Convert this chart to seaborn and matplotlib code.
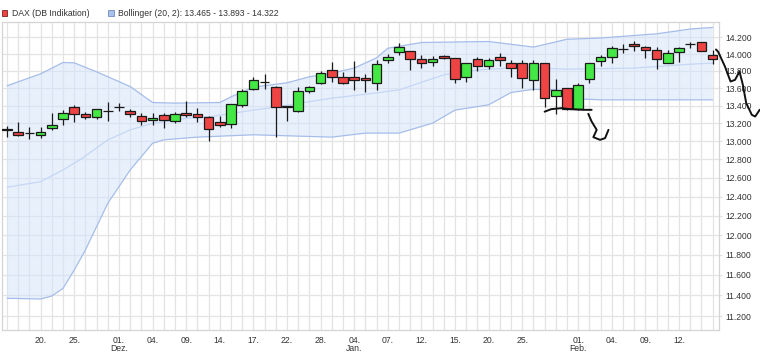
import numpy as np
import pandas as pd
import matplotlib
matplotlib.use("Agg")
from matplotlib import pyplot as plt
from matplotlib.patches import Patch
from matplotlib.ticker import FixedLocator, NullLocator
import seaborn as sns

# DAX daily candles, 17.11. - 17.02. (one entry per trading day)
open_ = [13140, 13103, 13090, 13066, 13144, 13252, 13388, 13303, 13266, 13336,
         13383, 13334, 13286, 13241, 13294, 13224, 13317, 13303, 13275, 13209,
         13190, 13402, 13588, 13671, 13617, 13386, 13342, 13572, 13665, 13806,
         13735, 13728, 13713, 13658, 13926, 14025, 14031, 13940, 13908, 13976,
         13953, 13728, 13940, 13853, 13971, 13897, 13893, 13696, 13897, 13505,
         13600, 13356, 13705, 13912, 13964, 14061, 14120, 14087, 14045, 13897,
         14027, 14116, 14139, 13995]
high = [13170, 13209, 13156, 13156, 13311, 13345, 13406, 13328, 13362, 13442,
        13434, 13359, 13317, 13313, 13313, 13331, 13453, 13370, 13280, 13283,
        13420, 13588, 13726, 13770, 13620, 13396, 13612, 13627, 13802, 13902,
        13790, 13912, 13761, 13932, 14000, 14132, 14035, 13995, 13980, 13995,
        13956, 13900, 13971, 13956, 14012, 13924, 13932, 13932, 13900, 13708,
        13605, 13665, 13900, 13992, 14091, 14123, 14156, 14099, 14079, 14051,
        14079, 14144, 14148, 14051]
low = [13048, 13053, 13022, 13029, 13125, 13178, 13218, 13245, 13252, 13230,
       13339, 13275, 13176, 13181, 13151, 13200, 13271, 13218, 13000, 13156,
       13144, 13388, 13580, 13588, 13048, 13230, 13331, 13549, 13650, 13677,
       13650, 13580, 13557, 13580, 13893, 13992, 13810, 13834, 13861, 13940,
       13665, 13677, 13794, 13822, 13861, 13735, 13603, 13580, 13381, 13305,
       13351, 13351, 13665, 13853, 13893, 14012, 14031, 13952, 13822, 13893,
       13905, 14072, 14031, 13879]
close = [13122, 13070, 13086, 13103, 13178, 13317, 13303, 13274, 13359, 13332,
         13387, 13308, 13224, 13263, 13235, 13309, 13294, 13268, 13133, 13174,
         13416, 13569, 13691, 13675, 13381, 13390, 13569, 13609, 13775, 13735,
         13658, 13696, 13696, 13879, 13971, 14084, 13940, 13893, 13940, 13952,
         13705, 13893, 13853, 13924, 13924, 13834, 13723, 13893, 13485, 13580,
         13362, 13632, 13891, 13971, 14075, 14065, 14099, 14048, 13942, 14012,
         14078, 14120, 14039, 13942]

# Bollinger (20, 2)
upper_idx = [0, 3, 5, 6, 8, 11, 13, 15, 19, 20, 22, 25, 27, 29, 31, 33, 34, 37, 43, 47, 50, 53, 58, 61, 63]
upper_val = [13627, 13767, 13900, 13896, 13790, 13618, 13434, 13428, 13434, 13500, 13612, 13662,
             13732, 13775, 13834, 13956, 14070, 14139, 14151, 14084, 14178, 14193, 14244, 14302, 14322]
middle_idx = [0, 3, 5, 6.5, 8, 9, 11, 13, 15, 16, 18, 22, 24, 26, 29, 33, 35, 39, 42, 46, 50, 56, 61, 63]
middle_val = [12499, 12559, 12685, 12794, 12925, 13014, 13125, 13199, 13233, 13256, 13271, 13348,
              13382, 13425, 13484, 13545, 13580, 13755, 13814, 13841, 13822, 13834, 13880, 13893]
lower_idx = [0, 3, 4, 5, 6, 7, 9, 11, 13, 14, 17, 22, 25, 29, 32, 35, 38, 40, 43, 45, 47, 49, 51, 53, 63]
lower_val = [11371, 11364, 11393, 11468, 11648, 11849, 12330, 12685, 12977, 13014, 13044, 13070,
             13059, 13044, 13089, 13089, 13200, 13348, 13408, 13549, 13586, 13580, 13476, 13465, 13465]

# hand-drawn marks on the chart
scribble_a_idx = [48.0, 48.6, 49.5, 50.3, 51.5, 52.2]
scribble_a_val = [13330, 13359, 13370, 13359, 13351, 13351]
scribble_b_idx = [51.9, 52.2, 52.65, 52.35, 52.95, 53.4, 53.7]
scribble_b_val = [13305, 13218, 13125, 13044, 13014, 13033, 13125]
scribble_c_idx = [63.3, 63.5, 64.1, 64.6, 65.0, 65.4, 65.7, 66.0, 66.5, 66.8, 67.2]
scribble_c_val = [14055, 14027, 13853, 13677, 13696, 13794, 13638, 13428, 13294, 13275, 13351]

x_tick_idx = [3, 6, 10, 13, 16, 19, 22, 25, 28, 31, 34, 37, 40, 43, 46, 51, 54, 57, 60]
x_tick_labels = ["20.", "25.", "01.\nDez.", "04.", "09.", "14.", "17.", "22.", "28.", "04.\nJan.",
                 "07.", "12.", "15.", "20.", "25.", "01.\nFeb.", "04.", "09.", "12."]
y_ticks = [11200, 11400, 11600, 11800, 12000, 12200, 12400, 12600, 12800, 13000,
           13200, 13400, 13600, 13800, 14000, 14200]
y_tick_labels = ["11.200", "11.400", "11.600", "11.800", "12.000", "12.200", "12.400", "12.600",
                 "12.800", "13.000", "13.200", "13.400", "13.600", "13.800", "14.000", "14.200"]

sns.set_style("white")
plt.rcParams['font.family'] = ['Liberation Sans', 'DejaVu Sans']

RED = '#ef4444'
GREEN = '#44e844'
EDGE = '#1a1a1a'
BAND_LINE = '#a6bdea'
BAND_MID = '#c5d7f5'
BAND_FILL = '#d6e4fb'
GRID = '#e3e3e3'
TXT = '#333333'

df = pd.DataFrame({'open': open_, 'high': high, 'low': low, 'close': close})
df['idx'] = np.arange(len(df))
df['up'] = df['close'] >= df['open']
df['bottom'] = df[['open', 'close']].min(axis=1)
df['height'] = (df['close'] - df['open']).abs()

fig = plt.figure(figsize=(7.6, 3.52), dpi=100)
ax = fig.add_axes([2 / 760, 22 / 352, 717 / 760, 308 / 352])
ax.set_yscale('log')

# bollinger band
band_x = np.concatenate([upper_idx, lower_idx[::-1]])
band_y = np.concatenate([upper_val, lower_val[::-1]])
ax.fill(band_x, band_y, color=BAND_FILL, alpha=0.55, lw=0, zorder=1)
sns.lineplot(x=upper_idx, y=upper_val, ax=ax, color=BAND_LINE, lw=0.9, zorder=2)
sns.lineplot(x=lower_idx, y=lower_val, ax=ax, color=BAND_LINE, lw=0.9, zorder=2)
sns.lineplot(x=middle_idx, y=middle_val, ax=ax, color=BAND_MID, lw=0.9, zorder=2)

# candles
ax.vlines(df['idx'], df['low'], df['high'], color=EDGE, lw=0.9, zorder=3)
colors = [GREEN if u else RED for u in df['up']]
ax.bar(df['idx'], df['height'], bottom=df['bottom'], width=0.86, color=colors,
       edgecolor=EDGE, linewidth=0.9, zorder=4)

# hand-drawn marks
for sx, sy in [(scribble_a_idx, scribble_a_val), (scribble_b_idx, scribble_b_val),
               (scribble_c_idx, scribble_c_val)]:
    ax.plot(sx, sy, color='#111111', lw=1.4, zorder=6, clip_on=False,
            solid_capstyle='round', solid_joinstyle='round')

ax.set_xlim(-0.45, 63.57)
ax.set_ylim(11068, 14388)

# grid on every trading day, labels every few days
all_idx = list(range(len(df)))
ax.xaxis.set_major_locator(FixedLocator(all_idx))
lab = [''] * len(all_idx)
for i, t in zip(x_tick_idx, x_tick_labels):
    lab[i] = t
ax.set_xticklabels(lab)
for t in ax.get_xticklabels():
    t.set_linespacing(0.95)
ax.yaxis.set_major_locator(FixedLocator(y_ticks))
ax.yaxis.set_minor_locator(NullLocator())
ax.set_yticklabels(y_tick_labels)
ax.yaxis.tick_right()

ax.grid(True, color=GRID, lw=0.9, zorder=0)
ax.set_axisbelow(True)
ax.tick_params(axis='x', length=3, width=0.9, color=GRID, pad=1.2,
               labelsize=6.2, labelcolor=TXT)
ax.tick_params(axis='y', length=2, width=0.9, color=GRID, pad=2.5,
               labelsize=6.2, labelcolor=TXT)
for s in ax.spines.values():
    s.set_color('#d4d4d4')
    s.set_linewidth(0.9)

handles = [Patch(facecolor=RED, edgecolor='#7a2020', lw=0.6, label='DAX (DB Indikation)'),
           Patch(facecolor='#a9c0ea', edgecolor='#6f8cc4', lw=0.6,
                 label='Bollinger (20, 2): 13.465 - 13.893 - 14.322')]
fig.legend(handles=handles, loc='upper left', bbox_to_anchor=(2 / 760, 1 - 9 / 352),
           ncol=2, frameon=False, fontsize=6.2, handlelength=0.6, handleheight=0.6,
           handletextpad=0.55, columnspacing=2.2, borderpad=0, borderaxespad=0,
           labelcolor=TXT)

fig.savefig('out.png', dpi=100, facecolor='white')
